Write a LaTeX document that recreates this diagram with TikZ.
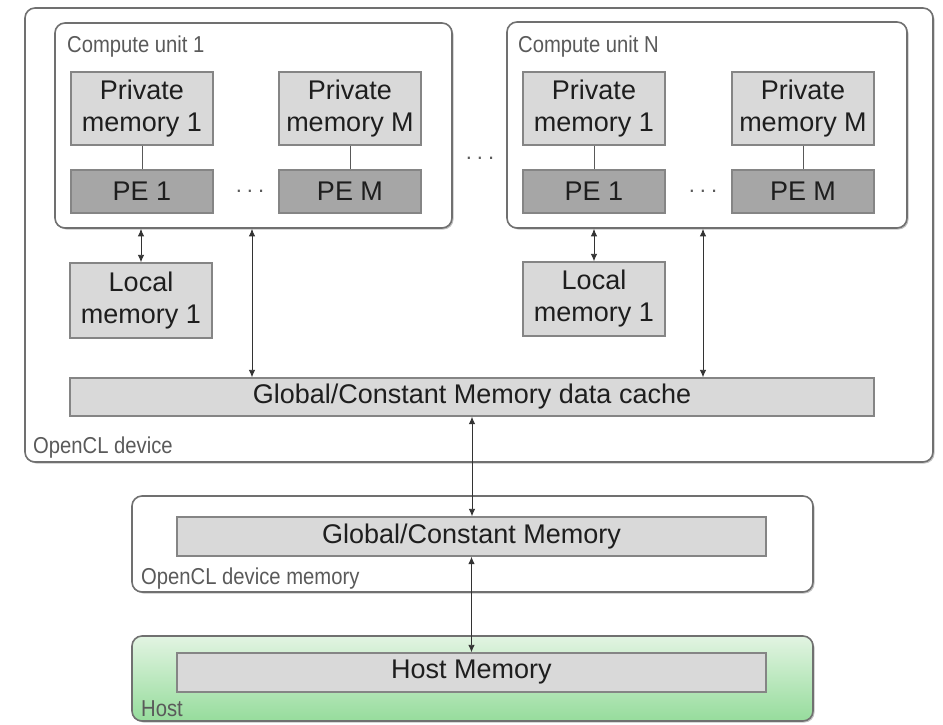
\documentclass[tikz,border=0pt]{standalone}
\usepackage{fontspec}
\setmainfont{Liberation Sans}
\newfontfamily\narrowsans[FakeStretch=0.88]{Liberation Sans}
\usetikzlibrary{arrows.meta,shadows}
\definecolor{boxfill}{HTML}{D9D9D9}
\definecolor{pefill}{HTML}{A6A6A6}
\definecolor{boxline}{HTML}{858585}
\definecolor{frameline}{HTML}{707070}
\definecolor{txt}{HTML}{1E1E1E}
\definecolor{lbl}{HTML}{5A5A5A}
\definecolor{hosttop}{HTML}{E2F4E2}
\definecolor{hostbot}{HTML}{96DC9C}
\newcommand{\spreaddots}{.\hspace{5pt}.\hspace{5pt}.}

\begin{document}
\begin{tikzpicture}[x=1pt,y=-1pt,
  frame/.style={draw=frameline, line width=1.6pt, rounded corners=10pt, fill=white,
    inner sep=0pt,
    drop shadow={shadow xshift=1.5pt, shadow yshift=-1.5pt, opacity=0.4, fill=black!60}},
  membox/.style={draw=boxline, line width=1.4pt, fill=boxfill, inner sep=0pt,
    align=center, text=txt, font=\fontsize{27}{32}\selectfont},
  pebox/.style={membox, fill=pefill},
  tag/.style={anchor=base west, inner sep=0pt, text=lbl, font=\narrowsans\fontsize{23}{26}\selectfont},
  gap/.style={inner sep=0pt, text=lbl, font=\fontsize{22}{22}\selectfont},
  tie/.style={draw=black!65, line width=0.9pt},
  conn/.style={{Latex[length=7.5pt,width=6.5pt]}-{Latex[length=7.5pt,width=6.5pt]}, draw=black!80, line width=0.9pt}
]
\useasboundingbox (0,0) rectangle (943,724);

% OpenCL device frame
\node[frame, minimum width=908pt, minimum height=454pt] (dev) at (479,235) {};
\node[tag] (devlbl) at (33,453) {OpenCL device};

% Compute unit 1
\node[frame, minimum width=397pt, minimum height=205pt] (cu1) at (253.5,125.5) {};
\node[tag] (cu1lbl) at (67,52) {Compute unit 1};
\node[membox, minimum width=142pt, minimum height=73pt] (pm11) at (142,108.5) {Private\\memory 1};
\node[pebox, minimum width=142pt, minimum height=43pt] (pe11) at (142,191.5) {PE 1};
\node[membox, minimum width=142pt, minimum height=73pt] (pm1M) at (350,108.5) {Private\\memory M};
\node[pebox, minimum width=142pt, minimum height=43pt] (pe1M) at (350,191.5) {PE M};
\node[gap] (dots1) at (250,191) {\spreaddots};
\draw[tie] (pm11) -- (pe11);
\draw[tie] (pm1M) -- (pe1M);

% dots between compute units
\node[gap] (dotsmid) at (480,158) {\spreaddots};

% Compute unit N
\node[frame, minimum width=400pt, minimum height=206pt] (cuN) at (707,125) {};
\node[tag] (cuNlbl) at (518,52) {Compute unit N};
\node[membox, minimum width=142pt, minimum height=73pt] (pmN1) at (594,108.5) {Private\\memory 1};
\node[pebox, minimum width=142pt, minimum height=43pt] (peN1) at (594,191.5) {PE 1};
\node[membox, minimum width=142pt, minimum height=73pt] (pmNM) at (803,108.5) {Private\\memory M};
\node[pebox, minimum width=142pt, minimum height=43pt] (peNM) at (803,191.5) {PE M};
\node[gap] (dotsN) at (703,191) {\spreaddots};
\draw[tie] (pmN1) -- (peN1);
\draw[tie] (pmNM) -- (peNM);

% local memories
\node[membox, minimum width=142pt, minimum height=75pt] (lm1) at (141,300.5) {Local\\memory 1};
\node[membox, minimum width=142pt, minimum height=74pt] (lmN) at (594,299) {Local\\memory 1};

% global/constant data cache
\node[membox, minimum width=804pt, minimum height=38pt] (cache) at (472,397) {Global/Constant Memory data cache};

% links inside the device
\draw[conn] (lm1.north |- cu1.south) -- (lm1.north);
\draw[conn] (lmN.north |- cuN.south) -- (lmN.north);
\coordinate (cu1port) at ([xshift=-1.5pt]cu1.south);
\coordinate (cuNport) at ([xshift=-4pt]cuN.south);
\draw[conn] (cu1port) -- (cu1port |- cache.north);
\draw[conn] (cuNport) -- (cuNport |- cache.north);

% OpenCL device memory
\node[frame, minimum width=681pt, minimum height=96pt] (devmem) at (472.5,544) {};
\node[tag] (devmemlbl) at (141,584) {OpenCL device memory};
\node[membox, minimum width=589pt, minimum height=39pt] (gmem) at (471.5,536.5) {Global/Constant Memory};

% Host
\node[frame, top color=hosttop, bottom color=hostbot, minimum width=681pt, minimum height=85pt] (host) at (472.5,678.5) {};
\node[tag] (hostlbl) at (141,716) {Host};
\node[membox, minimum width=589pt, minimum height=39pt] (hmem) at (471.5,672.5) {Host Memory};

% links between levels
\draw[conn] (cache.south) -- (cache.south |- gmem.north);
\draw[conn] (gmem.south) -- (hmem.north);
\end{tikzpicture}
\end{document}
